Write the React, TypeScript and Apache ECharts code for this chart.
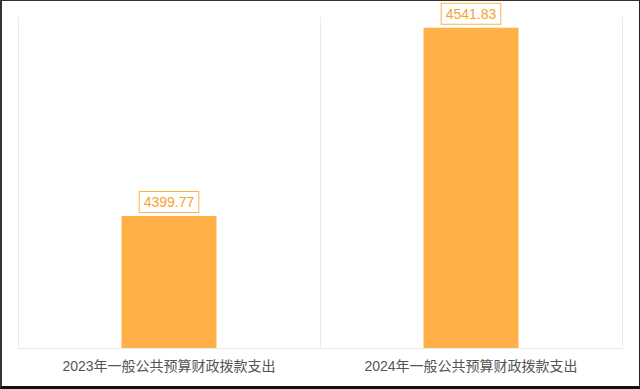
import React, { useEffect, useRef } from "react";
import * as echarts from "echarts";

const categories = ["2023年一般公共预算财政拨款支出", "2024年一般公共预算财政拨款支出"];
const values = [4399.77, 4541.83];
const yMin = 4300;
const yMax = 4550;

export default function App() {
  const ref = useRef<HTMLDivElement>(null);
  useEffect(() => {
    document.body.style.margin = "0";
    const chart = echarts.init(ref.current!, null, { renderer: "svg" });
    chart.setOption({
      animation: false,
      backgroundColor: "#ffffff",
      textStyle: { fontFamily: 'Arial, "Liberation Sans", "Noto Sans CJK SC", sans-serif' },
      grid: { left: 18, right: 18, top: 17, bottom: 41, containLabel: false },
      xAxis: {
        type: "category",
        data: categories,
        axisLine: { show: true, lineStyle: { color: "#eaeaea" } },
        axisTick: { show: false },
        splitLine: { show: true, lineStyle: { color: "#eaeaea" } },
        axisLabel: { color: "#555555", fontSize: 14, margin: 11 },
      },
      yAxis: {
        type: "value",
        min: yMin,
        max: yMax,
        show: false,
        splitLine: { show: false },
      },
      series: [
        {
          type: "bar",
          data: values,
          barWidth: 95,
          itemStyle: { color: "#FFB046" },
          label: {
            show: true,
            position: "top",
            distance: 4,
            color: "#F9A12E",
            fontSize: 14,
            borderColor: "#FFB046",
            borderWidth: 1,
            padding: [3, 4, 3, 4],
            backgroundColor: "#ffffff",
          },
        },
      ],
    });
    return () => chart.dispose();
  }, []);
  return (
    <div style={{ position: "fixed", left: 0, top: 0, width: 640, height: 389 }}>
      <div ref={ref} style={{ width: 640, height: 389 }} />
      <div
        style={{
          position: "absolute",
          left: 0,
          top: 0,
          width: 640,
          height: 389,
          boxSizing: "border-box",
          borderTop: "1px solid #333",
          borderLeft: "2px solid #333",
          borderRight: "1px solid #222",
          borderBottom: "3px solid #111",
          pointerEvents: "none",
        }}
      />
    </div>
  );
}
